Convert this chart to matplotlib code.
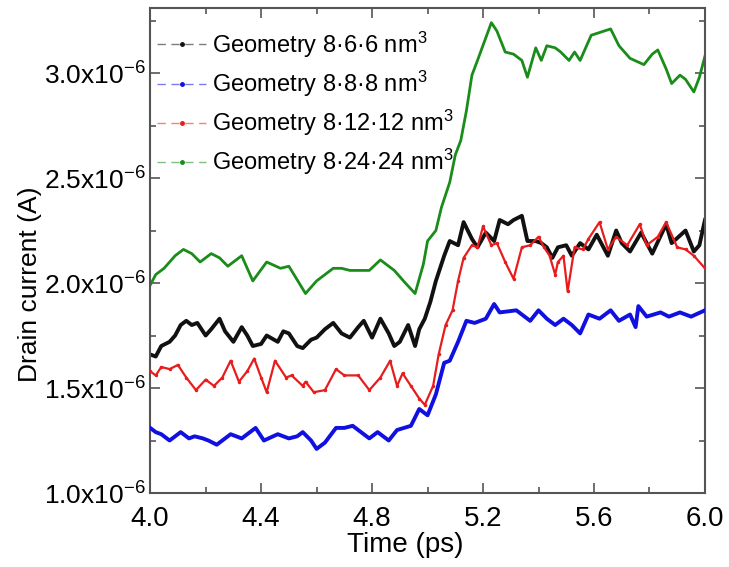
import numpy as np
import matplotlib
matplotlib.use("Agg")
import matplotlib.pyplot as plt
from matplotlib.lines import Line2D
from matplotlib.ticker import MultipleLocator, FuncFormatter

plt.rcParams["font.family"] = ["Liberation Sans", "DejaVu Sans"]
plt.rcParams["mathtext.fontset"] = "custom"
plt.rcParams["mathtext.rm"] = "Liberation Sans"
plt.rcParams["mathtext.it"] = "Liberation Sans"

# drain current in uA, time in ps
t_66 = [4.00, 4.02, 4.04, 4.07, 4.09, 4.11, 4.13, 4.15, 4.17, 4.20, 4.22, 4.25, 4.27, 4.30,
        4.33, 4.35, 4.37, 4.40, 4.42, 4.46, 4.48, 4.50, 4.53, 4.55, 4.58, 4.60, 4.63, 4.66,
        4.69, 4.72, 4.75, 4.77, 4.80, 4.83, 4.86, 4.88, 4.90, 4.93, 4.955, 4.97, 4.99, 5.01,
        5.03, 5.06, 5.08, 5.11, 5.13, 5.16, 5.18, 5.21, 5.24, 5.26, 5.29, 5.31, 5.34, 5.36,
        5.39, 5.41, 5.43, 5.45, 5.47, 5.50, 5.52, 5.55, 5.58, 5.61, 5.65, 5.68, 5.70, 5.73,
        5.77, 5.81, 5.86, 5.88, 5.93, 5.96, 5.98, 6.00]
i_66 = [1.66, 1.65, 1.70, 1.72, 1.75, 1.80, 1.82, 1.80, 1.81, 1.75, 1.78, 1.83, 1.77, 1.72,
        1.79, 1.75, 1.70, 1.71, 1.75, 1.72, 1.77, 1.76, 1.70, 1.69, 1.73, 1.74, 1.78, 1.81,
        1.76, 1.74, 1.79, 1.82, 1.74, 1.83, 1.76, 1.70, 1.72, 1.80, 1.70, 1.78, 1.83, 1.91,
        2.01, 2.13, 2.20, 2.18, 2.29, 2.21, 2.17, 2.24, 2.20, 2.30, 2.28, 2.30, 2.32, 2.20,
        2.20, 2.19, 2.17, 2.12, 2.17, 2.18, 2.13, 2.19, 2.16, 2.23, 2.13, 2.25, 2.19, 2.15,
        2.24, 2.14, 2.28, 2.19, 2.25, 2.15, 2.18, 2.30]

t_88 = [4.00, 4.02, 4.04, 4.07, 4.09, 4.11, 4.14, 4.16, 4.19, 4.21, 4.24, 4.27, 4.29, 4.33,
        4.36, 4.38, 4.41, 4.46, 4.50, 4.53, 4.55, 4.58, 4.60, 4.63, 4.67, 4.70, 4.73, 4.76,
        4.79, 4.82, 4.86, 4.89, 4.94, 4.97, 5.00, 5.03, 5.06, 5.08, 5.11, 5.14, 5.17, 5.21,
        5.24, 5.26, 5.32, 5.37, 5.40, 5.43, 5.46, 5.49, 5.52, 5.55, 5.58, 5.62, 5.66, 5.69,
        5.73, 5.75, 5.76, 5.79, 5.84, 5.87, 5.91, 5.95, 6.00]
i_88 = [1.31, 1.29, 1.28, 1.25, 1.27, 1.29, 1.26, 1.27, 1.26, 1.25, 1.23, 1.26, 1.28, 1.26,
        1.29, 1.31, 1.25, 1.28, 1.26, 1.27, 1.29, 1.25, 1.21, 1.24, 1.31, 1.31, 1.32, 1.29,
        1.26, 1.29, 1.25, 1.30, 1.32, 1.40, 1.37, 1.47, 1.62, 1.63, 1.72, 1.82, 1.81, 1.83,
        1.90, 1.86, 1.87, 1.82, 1.87, 1.83, 1.80, 1.83, 1.80, 1.76, 1.85, 1.83, 1.87, 1.82,
        1.85, 1.79, 1.89, 1.84, 1.86, 1.84, 1.86, 1.84, 1.87]

t_1212 = [4.00, 4.02, 4.04, 4.07, 4.10, 4.13, 4.165, 4.20, 4.23, 4.26, 4.29, 4.32, 4.35, 4.375,
          4.40, 4.42, 4.45, 4.49, 4.51, 4.55, 4.56, 4.59, 4.63, 4.67, 4.70, 4.75, 4.79, 4.83,
          4.865, 4.89, 4.91, 4.94, 4.97, 4.99, 5.02, 5.04, 5.065, 5.09, 5.11, 5.13, 5.16, 5.18,
          5.20, 5.23, 5.25, 5.28, 5.31, 5.34, 5.37, 5.40, 5.42, 5.44, 5.46, 5.47, 5.49, 5.505,
          5.53, 5.56, 5.58, 5.62, 5.65, 5.68, 5.72, 5.765, 5.79, 5.83, 5.86, 5.90, 5.93, 5.96,
          6.00]
i_1212 = [1.58, 1.56, 1.60, 1.59, 1.61, 1.55, 1.49, 1.54, 1.51, 1.55, 1.63, 1.53, 1.58, 1.64,
          1.55, 1.48, 1.63, 1.55, 1.56, 1.51, 1.53, 1.48, 1.49, 1.59, 1.56, 1.56, 1.49, 1.55,
          1.63, 1.51, 1.57, 1.51, 1.45, 1.42, 1.51, 1.66, 1.80, 1.87, 2.01, 2.12, 2.18, 2.17,
          2.27, 2.18, 2.19, 2.10, 2.02, 2.17, 2.18, 2.22, 2.17, 2.13, 2.04, 2.10, 2.13, 1.96,
          2.17, 2.16, 2.21, 2.29, 2.16, 2.22, 2.18, 2.28, 2.18, 2.22, 2.29, 2.17, 2.16, 2.13,
          2.07]

t_2424 = [4.00, 4.02, 4.05, 4.09, 4.12, 4.15, 4.18, 4.22, 4.25, 4.28, 4.33, 4.37, 4.42, 4.47,
          4.50, 4.56, 4.60, 4.66, 4.69, 4.72, 4.79, 4.83, 4.88, 4.92, 4.955, 4.985, 5.00, 5.03,
          5.05, 5.08, 5.10, 5.12, 5.14, 5.16, 5.18, 5.23, 5.25, 5.28, 5.31, 5.34, 5.36, 5.39,
          5.41, 5.43, 5.46, 5.48, 5.51, 5.53, 5.55, 5.59, 5.66, 5.69, 5.73, 5.78, 5.81, 5.83,
          5.86, 5.88, 5.91, 5.93, 5.96, 5.98, 6.00]
i_2424 = [1.99, 2.04, 2.07, 2.13, 2.16, 2.14, 2.10, 2.14, 2.12, 2.08, 2.13, 2.01, 2.10, 2.07,
          2.08, 1.95, 2.01, 2.07, 2.07, 2.06, 2.06, 2.11, 2.06, 2.00, 1.95, 2.09, 2.20, 2.25,
          2.36, 2.48, 2.61, 2.68, 2.82, 2.99, 3.06, 3.24, 3.20, 3.10, 3.09, 3.06, 2.98, 3.12,
          3.06, 3.13, 3.12, 3.10, 3.06, 3.10, 3.06, 3.18, 3.21, 3.13, 3.07, 3.04, 3.09, 3.11,
          3.02, 2.95, 2.99, 2.97, 2.91, 2.98, 3.08]

labels = [r"Geometry 8·6·6 nm$^3$", r"Geometry 8·8·8 nm$^3$",
          r"Geometry 8·12·12 nm$^3$", r"Geometry 8·24·24 nm$^3$"]
colors = ["#111111", "#1010e0", "#e81c1c", "#1a8c1a"]

fig = plt.figure(figsize=(7.29, 5.67), dpi=100)
ax = fig.add_axes([0.206, 0.1305, 0.761, 0.8555])

series = [(t_66, i_66), (t_88, i_88), (t_1212, i_1212), (t_2424, i_2424)]
for k, (t, i) in enumerate(series):
    y = np.array(i) * 1e-6
    if k == 2:
        ax.plot(t, y, color=colors[k], lw=1.6, marker=".", ms=3, zorder=3)
    elif k == 3:
        ax.plot(t, y, color=colors[k], lw=2.0, zorder=2)
    else:
        ax.plot(t, y, color=colors[k], lw=2.8, zorder=2 + k)

ax.set_xlim(4.0, 6.0)
ax.set_ylim(1.0e-6, 3.31e-6)
ax.xaxis.set_major_locator(MultipleLocator(0.4))
ax.xaxis.set_minor_locator(MultipleLocator(0.2))
ax.yaxis.set_major_locator(MultipleLocator(0.5e-6))
ax.yaxis.set_minor_locator(MultipleLocator(0.25e-6))
ax.xaxis.set_major_formatter(FuncFormatter(lambda v, p: f"{v:.1f}"))
ax.yaxis.set_major_formatter(FuncFormatter(lambda v, p: f"{v * 1e6:.1f}x10$^{{-6}}$"))
ax.tick_params(which="both", direction="in", top=True, right=True, color="#555555", width=1.2)
ax.tick_params(axis="y", labelsize=19, pad=3)
ax.tick_params(axis="x", labelsize=20, pad=9)
ax.tick_params(which="major", length=7)
ax.tick_params(which="minor", length=4)
for sp in ax.spines.values():
    sp.set_color("#555555")
    sp.set_linewidth(1.5)

ax.set_xlabel("Time (ps)", fontsize=20)
ax.xaxis.set_label_coords(0.46, -0.08)
ax.set_ylabel("Drain current (A)", fontsize=19)
ax.yaxis.set_label_coords(-0.195, 0.43)

handles = []
for c in colors:
    ln = Line2D([], [], color=c, lw=1.0, ls=(0, (6, 4)), alpha=0.55)
    dot = Line2D([], [], color=c, ls="none", marker="o", ms=2.5)
    handles.append((ln, dot))
ax.legend(handles, labels, loc="upper left", bbox_to_anchor=(-0.005, 0.975), frameon=False,
          prop={"size": 17}, handlelength=2.1,
          handletextpad=0.25, labelspacing=0.38, borderaxespad=0.0)

fig.savefig("out.png", dpi=100, facecolor="white")
